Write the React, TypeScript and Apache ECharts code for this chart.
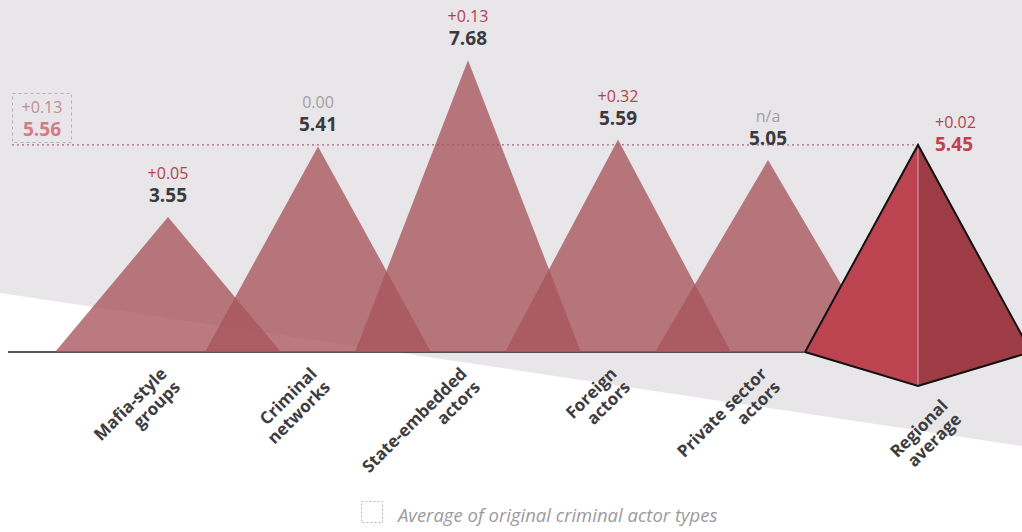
import React, { useEffect, useRef } from "react";
import * as echarts from "echarts";

const categories = [
  "Mafia-style\ngroups",
  "Criminal\nnetworks",
  "State-embedded\nactors",
  "Foreign\nactors",
  "Private sector\nactors",
  "Regional\naverage",
];
const values = [3.55, 5.41, 7.68, 5.59, 5.05, 5.45];
const changes = ["+0.05", "0.00", "+0.13", "+0.32", "n/a", "+0.02"];
const avgValue = 5.56;
const avgChange = "+0.13";
const legendText = "Average of original criminal actor types";

const W = 1022;
const H = 532;

const catFont = 'bold 17px "Open Sans"';

function renderItem(params: any, api: any) {
  const i = api.value(0) as number;
  const v = api.value(1) as number;
  const [cx, top] = api.coord([i, v]);
  const base = api.coord([i, 0])[1];
  const band = api.size([1, 0])[0];
  const hw = band * 0.753;
  const last = i === categories.length - 1;
  const children: any[] = [];
  const change = changes[i];
  const changeColor = change.startsWith("+") || change.startsWith("-") ? "#b5414f" : "#a2a0a4";

  if (!last) {
    children.push({
      type: "polygon",
      shape: { points: [[cx - hw, base], [cx, top], [cx + hw, base]] },
      style: { fill: "rgba(167,84,91,0.78)" },
    });
    children.push({
      type: "text",
      x: cx,
      y: top - 22,
      z2: 20,
      style: {
        text: v.toFixed(2),
        fill: "#3b3a3e",
        font: 'bold 19px "Open Sans"',
        lineHeight: 19,
        align: "center",
        verticalAlign: "middle",
      },
    });
    children.push({
      type: "text",
      x: cx,
      y: top - 44,
      z2: 20,
      style: {
        text: change,
        fill: changeColor,
        font: '16px "Open Sans"',
        lineHeight: 16,
        align: "center",
        verticalAlign: "middle",
      },
    });
    children.push({
      type: "text",
      x: cx + 2,
      y: base + 25,
      rotation: Math.PI / 4,
      z2: 20,
      style: {
        text: categories[i],
        fill: "#3d3c40",
        font: catFont,
        lineHeight: 19,
        align: "right",
        verticalAlign: "middle",
      },
    });
  } else {
    const depth = 34;
    const left = [cx - hw, base];
    const right = [cx + hw, base];
    const apex = [cx, top];
    const bottom = [cx, base + depth];
    children.push({
      type: "line",
      z2: -10,
      shape: { x1: 8, y1: base, x2: left[0], y2: base },
      style: { stroke: "#1e1d20", lineWidth: 1.6 },
    });
    children.push({
      type: "line",
      z2: -5,
      shape: { x1: 12, y1: top, x2: cx, y2: top },
      style: { stroke: "#a86a78", lineWidth: 1.4, lineDash: [2, 3] },
    });
    children.push({
      type: "polygon",
      z2: 10,
      shape: { points: [left, apex, bottom] },
      style: { fill: "#bc4450" },
    });
    children.push({
      type: "polygon",
      z2: 10,
      shape: { points: [apex, right, bottom] },
      style: { fill: "#9e3c45" },
    });
    children.push({
      type: "line",
      z2: 11,
      shape: { x1: cx, y1: top, x2: cx, y2: base + depth },
      style: { stroke: "#e0a2aa", lineWidth: 1 },
    });
    children.push({
      type: "polyline",
      z2: 12,
      shape: { points: [left, apex, right] },
      style: { stroke: "#111", lineWidth: 2, fill: null },
    });
    children.push({
      type: "polyline",
      z2: 12,
      shape: { points: [left, bottom, right] },
      style: { stroke: "#111", lineWidth: 2, fill: null },
    });
    children.push({
      type: "text",
      x: cx + 17,
      y: top - 1,
      z2: 20,
      style: {
        text: v.toFixed(2),
        fill: "#c0404e",
        font: 'bold 19px "Open Sans"',
        lineHeight: 19,
        align: "left",
        verticalAlign: "middle",
      },
    });
    children.push({
      type: "text",
      x: cx + 17,
      y: top - 23,
      z2: 20,
      style: {
        text: change,
        fill: changeColor,
        font: '16px "Open Sans"',
        lineHeight: 16,
        align: "left",
        verticalAlign: "middle",
      },
    });
    children.push({
      type: "text",
      x: cx + 33,
      y: base + 57,
      rotation: Math.PI / 4,
      z2: 20,
      style: {
        text: categories[i],
        fill: "#3d3c40",
        font: catFont,
        lineHeight: 19,
        align: "right",
        verticalAlign: "middle",
      },
    });
  }
  return { type: "group", children };
}

export default function App() {
  const ref = useRef<HTMLDivElement>(null);
  useEffect(() => {
    if (!ref.current) return;
    const chart = echarts.init(ref.current, null, { renderer: "svg" });
    chart.setOption({
      animation: false,
      backgroundColor: "#ffffff",
      grid: { left: 93, right: 29, top: 10, bottom: 180 },
      xAxis: { type: "category", data: categories, show: false },
      yAxis: { type: "value", min: 0, max: 9, show: false },
      graphic: [
        {
          type: "polygon",
          z: 0,
          shape: { points: [[0, 0], [W, 0], [W, 446], [0, 293]] },
          style: { fill: "#e8e6e9" },
        },
        {
          type: "rect",
          z: 1,
          shape: { x: 12.5, y: 93.5, width: 59, height: 49 },
          style: { fill: null, stroke: "#b4b2b6", lineWidth: 1, lineDash: [3, 3] },
        },
        {
          type: "text",
          z: 1,
          x: 42,
          y: 107,
          style: {
            text: avgChange,
            fill: "#c28c93",
            font: '16px "Open Sans"',
            lineHeight: 16,
            align: "center",
            verticalAlign: "middle",
          },
        },
        {
          type: "text",
          z: 1,
          x: 42,
          y: 129,
          style: {
            text: avgValue.toFixed(2),
            fill: "#d27c86",
            font: 'bold 19px "Open Sans"',
            lineHeight: 19,
            align: "center",
            verticalAlign: "middle",
          },
        },
        {
          type: "rect",
          z: 1,
          shape: { x: 361.5, y: 501.5, width: 21, height: 21 },
          style: { fill: null, stroke: "#b8b6ba", lineWidth: 1, lineDash: [2, 2] },
        },
        {
          type: "text",
          z: 1,
          x: 398,
          y: 514,
          style: {
            text: legendText,
            fill: "#9c9a9e",
            font: 'italic 18.5px "Open Sans"',
            lineHeight: 19,
            align: "left",
            verticalAlign: "middle",
          },
        },
      ],
      series: [
        {
          type: "custom",
          clip: false,
          renderItem,
          data: values.map((v, i) => [i, v]),
        },
      ],
    });
    return () => chart.dispose();
  }, []);
  return (
    <div
      ref={ref}
      style={{ position: "fixed", left: 0, top: 0, width: W, height: H }}
    />
  );
}
